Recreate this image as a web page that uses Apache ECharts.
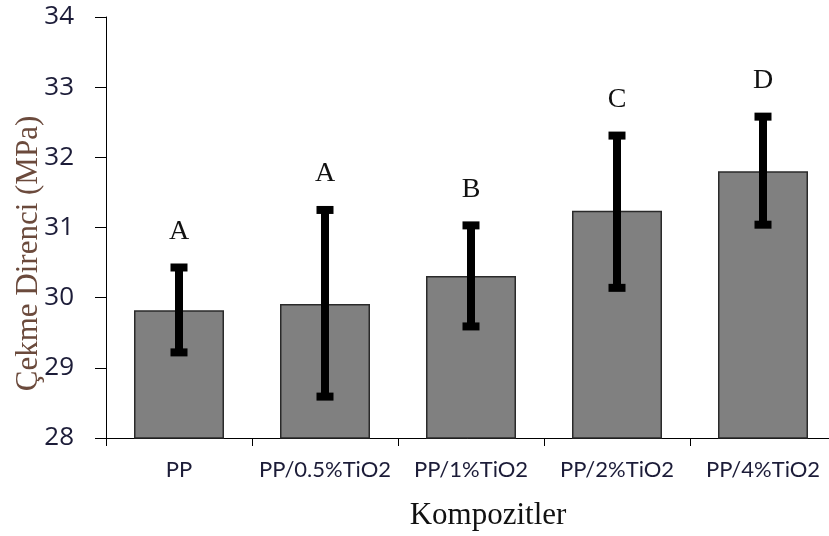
<!DOCTYPE html>
<html>
<head>
<meta charset="utf-8">
<script src="https://cdn.jsdelivr.net/npm/echarts@6/dist/echarts.min.js"></script>
<style>
  html, body { margin: 0; padding: 0; background: #fff; }
  #chart { width: 829px; height: 536px; }
</style>
</head>
<body>
<div id="chart"></div>
<script>
// kompozit adlari
const categories = ['PP', 'PP/0.5%TiO2', 'PP/1%TiO2', 'PP/2%TiO2', 'PP/4%TiO2'];
// ortalama cekme direnci (MPa)
const meanValues = [29.82, 29.91, 30.31, 31.24, 31.80];
// hata cubugu alt / ust sinirlari
const errLow = [29.22, 28.59, 29.59, 30.14, 31.04];
const errHigh = [30.43, 31.25, 31.03, 32.31, 32.58];
// istatistik gruplari
const groupLetters = ['A', 'A', 'B', 'C', 'D'];
const yTicks = { min: 28, max: 34, interval: 1 };

const chart = echarts.init(document.getElementById('chart'));

const errorData = categories.map((c, i) => [i, errLow[i], errHigh[i], groupLetters[i]]);

chart.setOption({
  animation: false,
  grid: { left: 106, top: 17, right: -7, bottom: 98, outerBoundsMode: 'none', containLabel: false },
  xAxis: {
    type: 'category',
    data: categories,
    name: 'Kompozitler',
    nameLocation: 'middle',
    nameGap: 62,
    nameMoveOverlap: false,
    nameTextStyle: {
      fontFamily: 'Liberation Serif', fontSize: 31, color: '#111',
      padding: [0, 0, 0, 34]
    },
    axisLine: { lineStyle: { color: '#000', width: 1 } },
    axisTick: { show: true, length: 8, lineStyle: { color: '#000' } },
    axisLabel: {
      interval: 0,
      hideOverlap: false,
      fontFamily: 'Lato', fontSize: 22, color: '#1c1c38', margin: 21
    }
  },
  yAxis: {
    type: 'value',
    min: yTicks.min,
    max: yTicks.max,
    interval: yTicks.interval,
    name: 'Çekme Direnci (MPa)',
    nameLocation: 'middle',
    nameGap: 62,
    nameMoveOverlap: false,
    nameTextStyle: {
      fontFamily: 'Liberation Serif', fontSize: 31, color: '#6b4a3c',
      padding: [0, 52, 0, 0]
    },
    splitLine: { show: false },
    axisLine: { show: true, lineStyle: { color: '#000', width: 1 } },
    axisTick: { show: true, length: 11, lineStyle: { color: '#000' } },
    axisLabel: {
      fontFamily: 'Open Sans', fontSize: 26, color: '#1c1c38', margin: 32
    }
  },
  series: [
    {
      type: 'bar',
      data: meanValues,
      barWidth: 90,
      itemStyle: { color: '#808080', borderColor: '#2a2a2a', borderWidth: 1.5 }
    },
    {
      type: 'custom',
      data: errorData,
      z: 10,
      renderItem: function (params, api) {
        const x = api.value(0);
        const lo = api.coord([x, api.value(1)]);
        const hi = api.coord([x, api.value(2)]);
        const cx = lo[0];
        const capW = 17, capH = 8, lineW = 8;
        return {
          type: 'group',
          children: [
            { type: 'rect', shape: { x: cx - lineW / 2, y: hi[1], width: lineW, height: lo[1] - hi[1] }, style: { fill: '#000' } },
            { type: 'rect', shape: { x: cx - capW / 2, y: hi[1] - capH / 2, width: capW, height: capH }, style: { fill: '#000' } },
            { type: 'rect', shape: { x: cx - capW / 2, y: lo[1] - capH / 2, width: capW, height: capH }, style: { fill: '#000' } },
            {
              type: 'text',
              x: cx, y: hi[1] - 36,
              style: {
                text: api.value(3),
                fontFamily: 'Liberation Serif', fontSize: 28, fill: '#111',
                align: 'center', verticalAlign: 'middle'
              }
            }
          ]
        };
      }
    }
  ]
});

window.addEventListener('resize', () => chart.resize());
</script>
</body>
</html>
